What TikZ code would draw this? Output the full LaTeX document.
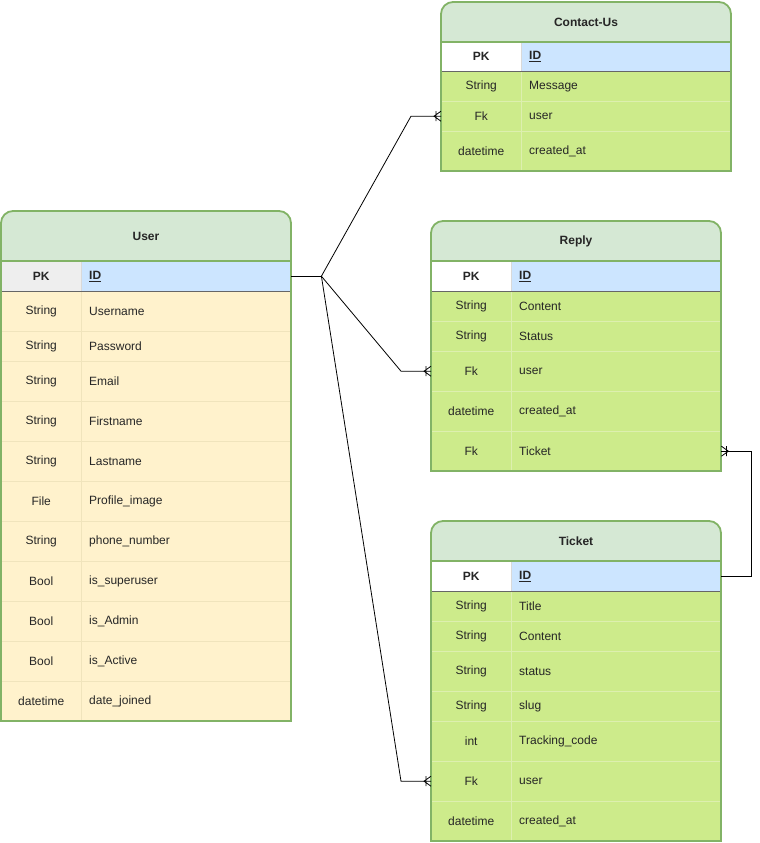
\documentclass[tikz,border=0pt]{standalone}
\usepackage{fontspec}
\setmainfont{Liberation Sans}

\definecolor{ergreen}{HTML}{82B366}
\definecolor{headfill}{HTML}{D5E8D4}
\definecolor{bodygreen}{HTML}{CDEB8B}
\definecolor{bodyyellow}{HTML}{FFF2CC}
\definecolor{idblue}{HTML}{CCE5FF}
\definecolor{pkgrey}{HTML}{EEEEEE}
\definecolor{sepgreen}{HTML}{DDEFAF}
\definecolor{sepyellow}{HTML}{F0E4BC}

% outline of a table: rounded on top, square at the bottom
\newcommand{\ertop}[4]{(#1,#4) -- (#1,#2+12) arc[start angle=180, end angle=270, radius=12] -- (#3-12,#2) arc[start angle=270, end angle=360, radius=12] -- (#3,#4) -- cycle}

\tikzset{
  cellfont/.style={font=\fontsize{12}{14}\selectfont, text=black!85},
  keycell/.style={cellfont, anchor=north west, minimum width=80pt, inner sep=0pt},
  fieldcell/.style={cellfont, anchor=north west, text width=194pt, inner xsep=8pt, inner ysep=0pt, align=left},
  pkkey/.style={keycell, font=\fontsize{12}{14}\selectfont\bfseries, draw=black!15},
  idcell/.style={fieldcell, font=\fontsize{12}{14}\selectfont\bfseries, fill=idblue, draw=black!15},
  headtext/.style={font=\fontsize{12}{14}\selectfont\bfseries, text=black!85},
  headline/.style={draw=ergreen, line width=1.5pt},
  pkline/.style={draw=black!60, line width=0.6pt},
  tableline/.style={draw=ergreen, line width=1.8pt},
  relline/.style={draw=black, line width=0.8pt},
  crowfoot/.pic={\draw[relline] (0,-5) -- (-7,0) -- (0,5) (-5,-5) -- (-5,5);}
}

\begin{document}
\begin{tikzpicture}[x=1pt,y=-1pt]
\useasboundingbox (0,0) rectangle (760,843);

% User
\fill[headfill] \ertop{1}{211}{291}{261};
\node[pkkey, fill=pkgrey, minimum height=30pt] (user-pk) at (1,261) {PK};
\node[idcell, minimum height=30pt] (user-id) at (81,261) {\underline{ID}};
\foreach \ytop/\ybot/\ktype/\fname [count=\i] in {291/331/String/Username, 331/361/String/Password, 361/401/String/Email, 401/441/String/Firstname, 441/481/String/Lastname, 481/521/File/Profile\_image, 521/561/String/phone\_number, 561/601/Bool/is\_superuser, 601/641/Bool/is\_Admin, 641/681/Bool/is\_Active, 681/721/datetime/date\_joined}{
  \node[keycell, fill=bodyyellow, draw=sepyellow, minimum height={(\ybot-\ytop)*1pt}] (user-k\i) at (1,\ytop) {\ktype};
  \node[fieldcell, fill=bodyyellow, draw=sepyellow, minimum height={(\ybot-\ytop)*1pt}] (user-f\i) at (81,\ytop) {\fname};
}
\draw[pkline] (user-pk.south west) -- (user-id.south east);
\draw[headline] (1,261) -- (291,261);
\draw[tableline] \ertop{1}{211}{291}{721};
\node[headtext] (user) at (146,236) {User};

% Contact-Us
\fill[headfill] \ertop{441}{2}{731}{42};
\node[pkkey, fill=white, minimum height=29pt] (contact-pk) at (441,42) {PK};
\node[idcell, minimum height=29pt] (contact-id) at (521,42) {\underline{ID}};
\foreach \ytop/\ybot/\ktype/\fname [count=\i] in {71/101/String/Message, 101/131/Fk/user, 131/171/datetime/created\_at}{
  \node[keycell, fill=bodygreen, draw=sepgreen, minimum height={(\ybot-\ytop)*1pt}] (contact-k\i) at (441,\ytop) {\ktype};
  \node[fieldcell, fill=bodygreen, draw=sepgreen, minimum height={(\ybot-\ytop)*1pt}] (contact-f\i) at (521,\ytop) {\fname};
}
\draw[pkline] (contact-pk.south west) -- (contact-id.south east);
\draw[headline] (441,42) -- (731,42);
\draw[tableline] \ertop{441}{2}{731}{171};
\node[headtext] (contact) at (586,22) {Contact-Us};

% Reply
\fill[headfill] \ertop{431}{221}{721}{261};
\node[pkkey, fill=white, minimum height=30pt] (reply-pk) at (431,261) {PK};
\node[idcell, minimum height=30pt] (reply-id) at (511,261) {\underline{ID}};
\foreach \ytop/\ybot/\ktype/\fname [count=\i] in {291/321/String/Content, 321/351/String/Status, 351/391/Fk/user, 391/431/datetime/created\_at, 431/471/Fk/Ticket}{
  \node[keycell, fill=bodygreen, draw=sepgreen, minimum height={(\ybot-\ytop)*1pt}] (reply-k\i) at (431,\ytop) {\ktype};
  \node[fieldcell, fill=bodygreen, draw=sepgreen, minimum height={(\ybot-\ytop)*1pt}] (reply-f\i) at (511,\ytop) {\fname};
}
\draw[pkline] (reply-pk.south west) -- (reply-id.south east);
\draw[headline] (431,261) -- (721,261);
\draw[tableline] \ertop{431}{221}{721}{471};
\node[headtext] (reply) at (576,241) {Reply};

% Ticket
\fill[headfill] \ertop{431}{521}{721}{561};
\node[pkkey, fill=white, minimum height=30pt] (ticket-pk) at (431,561) {PK};
\node[idcell, minimum height=30pt] (ticket-id) at (511,561) {\underline{ID}};
\foreach \ytop/\ybot/\ktype/\fname [count=\i] in {591/621/String/Title, 621/651/String/Content, 651/691/String/status, 691/721/String/slug, 721/761/int/Tracking\_code, 761/801/Fk/user, 801/841/datetime/created\_at}{
  \node[keycell, fill=bodygreen, draw=sepgreen, minimum height={(\ybot-\ytop)*1pt}] (ticket-k\i) at (431,\ytop) {\ktype};
  \node[fieldcell, fill=bodygreen, draw=sepgreen, minimum height={(\ybot-\ytop)*1pt}] (ticket-f\i) at (511,\ytop) {\fname};
}
\draw[pkline] (ticket-pk.south west) -- (ticket-id.south east);
\draw[headline] (431,561) -- (721,561);
\draw[tableline] \ertop{431}{521}{721}{841};
\node[headtext] (ticket) at (576,541) {Ticket};

% relations
\draw[relline] (user-id.east) -- ++(30,0) coordinate (hub);
\draw[relline] (contact-k2.west) -- ++(-30,0) -- (hub);
\draw[relline] (reply-k3.west) -- ++(-30,0) -- (hub);
\draw[relline] (ticket-k6.west) -- ++(-30,0) -- (hub);
\draw[relline] (reply-f5.east) -- ++(30,0) |- (ticket-id.east);
\pic at (contact-k2.west) {crowfoot};
\pic at (reply-k3.west) {crowfoot};
\pic at (ticket-k6.west) {crowfoot};
\pic[rotate=180] at (reply-f5.east) {crowfoot};
\end{tikzpicture}
\end{document}
